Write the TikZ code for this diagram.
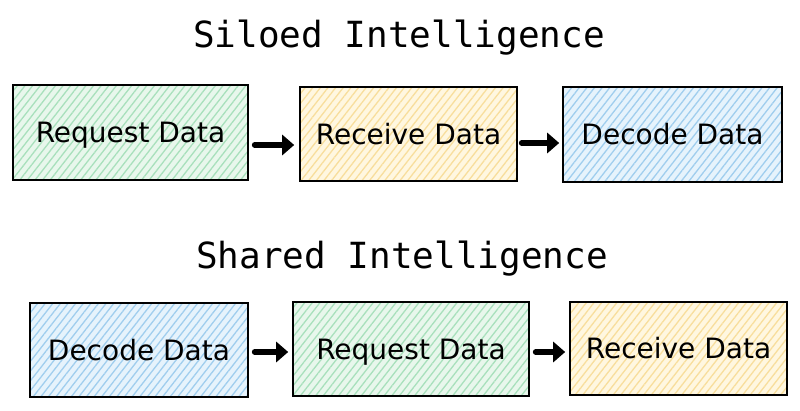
\documentclass[tikz,border=0pt]{standalone}
\usepackage{fontspec}
\setmainfont{DejaVu Sans}
\newfontfamily\titlefont{DejaVu Sans Mono}
\usetikzlibrary{patterns.meta,arrows.meta}
\definecolor{greenbg}{HTML}{E8F7EC}
\definecolor{greenhatch}{HTML}{A8E0BC}
\definecolor{yellowbg}{HTML}{FFF7E0}
\definecolor{yellowhatch}{HTML}{F8DE9C}
\definecolor{bluebg}{HTML}{E6F3FC}
\definecolor{bluehatch}{HTML}{A0CEEE}
\tikzset{
  box/.style={draw=black, line width=1.6pt, inner sep=0pt,
    font=\fontsize{28}{32}\selectfont, text height=20.4pt, text depth=0pt},
  hatch/.style={preaction={fill=#1bg}, preaction={pattern={Lines[angle=52,distance=6pt,line width=1.3pt]}, pattern color=#1hatch}},
  greenbox/.style={box, hatch=green},
  yellowbox/.style={box, hatch=yellow},
  bluebox/.style={box, hatch=blue},
  arr/.style={line width=6pt, line cap=round, -{Triangle[length=12pt,width=20pt]}},
  title/.style={anchor=base, font=\titlefont\fontsize{36}{40}\selectfont}
}
\begin{document}
\begin{tikzpicture}[x=1pt,y=-1pt]
\useasboundingbox (0,0) rectangle (800,410);
\node[title] (t1) at (399,47) {Siloed Intelligence};
\node[title] (t2) at (402,268) {Shared Intelligence};

\node[greenbox, minimum width=235pt, minimum height=95pt] (r1) at (130.5,132.5) {Request Data};
\node[yellowbox, minimum width=217pt, minimum height=94pt] (r2) at (408.5,134) {Receive Data};
\node[bluebox, minimum width=219pt, minimum height=95pt] (r3) at (672.5,134.5) {Decode Data};

\node[bluebox, minimum width=218pt, minimum height=94pt] (s1) at (139,350) {Decode Data};
\node[greenbox, minimum width=236pt, minimum height=94pt] (s2) at (411,349) {Request Data};
\node[yellowbox, minimum width=217pt, minimum height=93pt] (s3) at (678.5,348.5) {Receive Data};

\draw[arr, shorten <=6pt, shorten >=5pt] (r1.east |- 0,145) -- (r2.west |- 0,145);
\draw[arr, shorten <=4pt, shorten >=3pt] (r2.east |- 0,143) -- (r3.west |- 0,143);
\draw[arr, shorten <=6pt, shorten >=4pt] (s1.east |- 0,352) -- (s2.west |- 0,352);
\draw[arr, shorten <=6pt, shorten >=4pt] (s2.east |- 0,352) -- (s3.west |- 0,352);
\end{tikzpicture}
\end{document}
